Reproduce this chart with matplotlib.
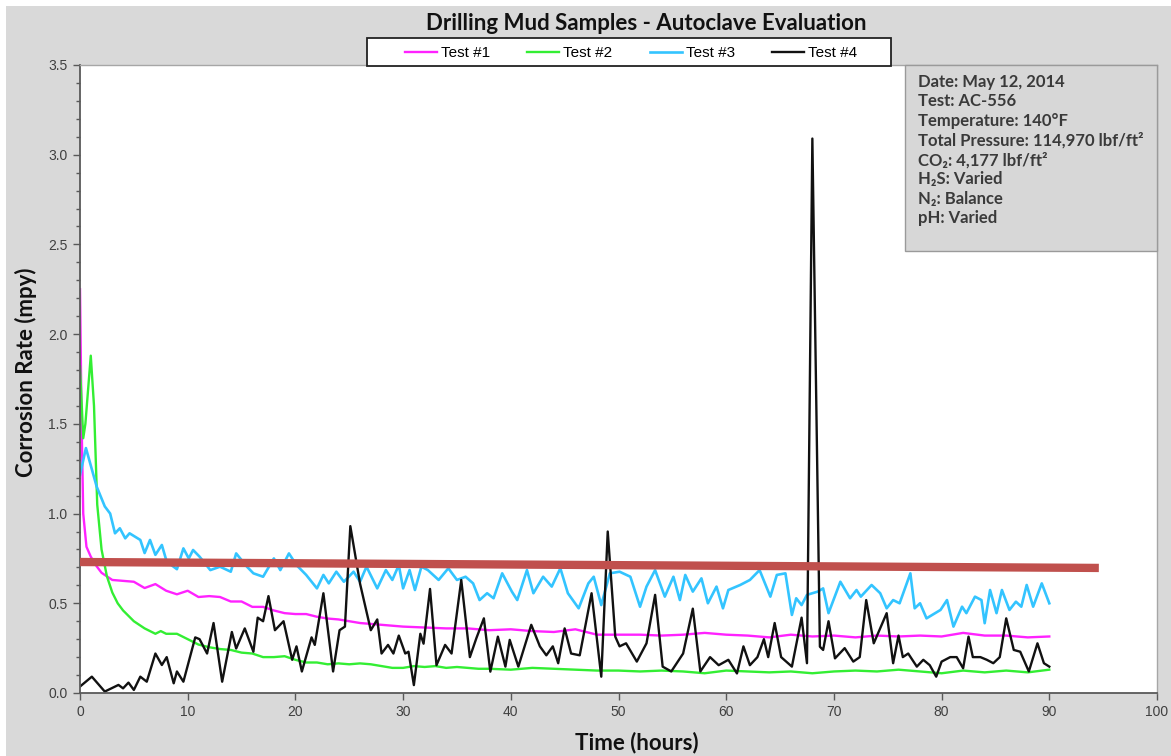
import matplotlib
matplotlib.use('Agg')
import matplotlib.pyplot as plt
from matplotlib.patches import Rectangle
from matplotlib.ticker import MultipleLocator, FormatStrFormatter

###########################################
# Data
###########################################

series_names = ['Test #1', 'Test #2', 'Test #3', 'Test #4']
series_colors = ['#ff22ff', '#33ee33', '#33c4ff', '#111111']

# Test #1
t1 = [0, 0.15, 0.3, 0.6, 1.0, 1.5, 2, 3, 4, 5, 6, 7, 8, 9, 10, 11, 12, 13, 14, 15,
      16, 17, 18, 19, 20, 21, 22, 23, 24, 25, 26, 27, 28, 29, 30, 32, 34, 36, 38, 40,
      42, 44, 46, 48, 50, 52, 54, 56, 58, 60, 62, 64, 66, 68, 70, 72, 74, 76, 78, 80,
      82, 84, 86, 88, 90]
v1 = [2.25, 1.5, 1.0, 0.815, 0.76, 0.71, 0.67, 0.63, 0.625, 0.62, 0.585, 0.607, 0.57, 0.55, 0.57,
      0.535, 0.54, 0.535, 0.51, 0.51, 0.48, 0.48, 0.46, 0.445, 0.44, 0.44, 0.425, 0.415, 0.41, 0.40,
      0.39, 0.385, 0.38, 0.375, 0.37, 0.365, 0.36, 0.36, 0.35, 0.355, 0.345, 0.34, 0.355, 0.325,
      0.325, 0.325, 0.32, 0.325, 0.335, 0.325, 0.32, 0.31, 0.325, 0.315, 0.32, 0.31, 0.32, 0.315,
      0.32, 0.315, 0.335, 0.32, 0.32, 0.31, 0.315]

# Test #2
t2 = [0, 0.3, 0.5, 1.0, 1.3, 1.6, 2.0, 2.5, 3, 3.5, 4, 5, 6, 7, 7.5, 8, 9, 10, 11, 12,
      13, 14, 15, 16, 17, 18, 19, 20, 21, 22, 23, 24, 25, 26, 27, 28, 29, 30, 31, 32,
      33, 34, 35, 36, 37, 38, 40, 42, 44, 46, 48, 50, 52, 54, 56, 58, 60, 62, 64, 66,
      68, 70, 72, 74, 76, 78, 80, 82, 84, 86, 88, 90]
v2 = [1.82, 1.42, 1.5, 1.88, 1.6, 1.05, 0.8, 0.65, 0.56, 0.5, 0.46, 0.4, 0.36, 0.33, 0.345,
      0.33, 0.33, 0.3, 0.27, 0.255, 0.245, 0.24, 0.225, 0.22, 0.2, 0.2, 0.205, 0.185, 0.17,
      0.17, 0.16, 0.165, 0.16, 0.165, 0.16, 0.15, 0.14, 0.14, 0.15, 0.145, 0.15, 0.14, 0.145,
      0.14, 0.135, 0.135, 0.13, 0.14, 0.135, 0.13, 0.125, 0.125, 0.12, 0.125, 0.12, 0.11,
      0.125, 0.12, 0.115, 0.12, 0.11, 0.12, 0.125, 0.12, 0.13, 0.12, 0.11, 0.125, 0.115,
      0.125, 0.115, 0.13]

# Test #3
t3 = [0, 0.55, 1.55, 2.3, 2.8, 3.25, 3.7, 4.2, 4.6, 5.6, 6.0, 6.5, 7.0, 7.6, 8.05, 9.0,
      9.6, 10.1, 10.5, 11.1, 12.1, 13.0, 14.0, 14.5, 15.5, 16.1, 17.0, 18.0, 18.6, 19.4,
      20.1, 21.0, 22.0, 22.6, 23.1, 23.8, 24.5, 25.4, 26.0, 26.6, 27.6, 28.4, 29.0, 29.6,
      30.0, 30.6, 31.1, 31.7, 32.3, 33.3, 34.2, 35.0, 35.8, 36.5, 37.1, 37.8, 38.4, 39.2,
      40.1, 40.6, 41.5, 42.1, 43.0, 43.8, 44.6, 45.3, 46.3, 47.2, 47.7, 48.4, 49.2, 50.1,
      51.1, 52.0, 52.6, 53.4, 54.3, 55.1, 55.7, 56.2, 56.9, 57.7, 58.3, 59.1, 59.7, 60.2,
      61.3, 62.2, 63.1, 64.1, 64.7, 65.5, 66.1, 66.5, 67.0, 67.5, 68.5, 69.0, 69.5, 70.6,
      71.5, 72.1, 72.5, 73.5, 74.3, 74.9, 75.5, 76.1, 77.1, 77.5, 78.0, 78.6, 79.9, 80.5,
      81.1, 81.9, 82.3, 83.1, 83.7, 84.0, 84.5, 85.1, 85.6, 86.3, 86.9, 87.4, 87.9, 88.5,
      89.3, 90.0]
v3 = [1.215, 1.365, 1.15, 1.04, 1.0, 0.89, 0.918, 0.862, 0.89, 0.853, 0.78, 0.853, 0.77,
      0.825, 0.732, 0.69, 0.806, 0.75, 0.797, 0.76, 0.685, 0.704, 0.676, 0.778, 0.704, 0.667,
      0.648, 0.75, 0.685, 0.778, 0.713, 0.658, 0.583, 0.658, 0.611, 0.676, 0.62, 0.676, 0.62,
      0.704, 0.583, 0.685, 0.63, 0.713, 0.583, 0.685, 0.574, 0.704, 0.685, 0.63, 0.695, 0.63,
      0.648, 0.611, 0.518, 0.556, 0.528, 0.667, 0.565, 0.518, 0.685, 0.556, 0.648, 0.593,
      0.695, 0.556, 0.472, 0.611, 0.648, 0.49, 0.667, 0.676, 0.648, 0.481, 0.593, 0.685,
      0.537, 0.648, 0.518, 0.658, 0.565, 0.639, 0.5, 0.593, 0.472, 0.574, 0.602, 0.63, 0.685,
      0.537, 0.658, 0.667, 0.435, 0.528, 0.49, 0.547, 0.565, 0.583, 0.445, 0.62, 0.528, 0.574,
      0.537, 0.602, 0.556, 0.472, 0.518, 0.5, 0.667, 0.472, 0.5, 0.416, 0.463, 0.518, 0.37,
      0.481, 0.445, 0.537, 0.518, 0.389, 0.574, 0.445, 0.574, 0.463, 0.509, 0.481, 0.602,
      0.481, 0.611, 0.5]

# Test #4
t4 = [0, 1.1, 2.3, 3.57, 4.0, 4.5, 5.0, 5.6, 6.2, 7.0, 7.6, 8.05, 8.7, 9.0, 9.6, 10.7,
      11.1, 11.8, 12.4, 13.2, 14.1, 14.5, 15.3, 16.1, 16.5, 17.0, 17.5, 18.1, 18.9, 19.7,
      20.1, 20.6, 21.5, 21.8, 22.6, 23.5, 24.1, 24.6, 25.1, 26.0, 27.0, 27.6, 28.0, 28.6,
      29.1, 29.6, 30.2, 30.5, 31.0, 31.6, 31.9, 32.5, 33.1, 33.9, 34.5, 35.4, 36.2, 36.8,
      37.5, 38.1, 38.8, 39.5, 39.9, 40.7, 41.9, 42.7, 43.3, 43.9, 44.4, 45.0, 45.6, 46.4,
      47.5, 48.4, 49.0, 49.7, 50.1, 50.7, 51.7, 52.6, 53.4, 54.1, 54.9, 56.0, 56.9, 57.6,
      58.5, 59.3, 60.2, 61.0, 61.6, 62.2, 62.9, 63.5, 63.9, 64.5, 65.1, 66.1, 67.0, 67.5,
      68.0, 68.7, 69.0, 69.5, 70.1, 71.0, 71.8, 72.4, 73.0, 73.7, 74.9, 75.5, 76.0, 76.4,
      76.9, 77.7, 78.3, 78.9, 79.5, 80.0, 80.8, 81.4, 82.0, 82.5, 82.9, 83.6, 84.2, 84.8,
      85.4, 86.0, 86.7, 87.3, 88.1, 88.9, 89.5, 90.0]
v4 = [0.036, 0.091, 0.008, 0.045, 0.026, 0.058, 0.017, 0.091, 0.063, 0.22, 0.156, 0.20,
      0.054, 0.12, 0.063, 0.31, 0.30, 0.22, 0.39, 0.063, 0.34, 0.248, 0.36, 0.23, 0.42, 0.40,
      0.54, 0.35, 0.40, 0.185, 0.26, 0.12, 0.31, 0.268, 0.556, 0.12, 0.35, 0.37, 0.93, 0.61,
      0.35, 0.41, 0.22, 0.268, 0.22, 0.32, 0.22, 0.23, 0.044, 0.33, 0.275, 0.58, 0.155, 0.268,
      0.22, 0.63, 0.20, 0.305, 0.416, 0.119, 0.314, 0.147, 0.296, 0.147, 0.38, 0.26, 0.21,
      0.26, 0.166, 0.36, 0.22, 0.21, 0.556, 0.091, 0.90, 0.314, 0.26, 0.277, 0.175, 0.277,
      0.547, 0.147, 0.12, 0.22, 0.47, 0.12, 0.20, 0.155, 0.185, 0.109, 0.26, 0.155, 0.20,
      0.30, 0.20, 0.39, 0.20, 0.147, 0.42, 0.166, 3.09, 0.258, 0.24, 0.40, 0.193, 0.25,
      0.175, 0.20, 0.518, 0.277, 0.445, 0.166, 0.32, 0.20, 0.22, 0.147, 0.185, 0.155, 0.091,
      0.175, 0.20, 0.20, 0.138, 0.314, 0.20, 0.20, 0.185, 0.166, 0.20, 0.416, 0.24, 0.23,
      0.12, 0.277, 0.166, 0.147]

# hand-drawn reference line
ref_t = [0, 94.6]
ref_v = [0.73, 0.697]

info_lines = ['Date: May 12, 2014',
              'Test: AC-556',
              'Temperature: 140°F',
              'Total Pressure: 114,970 lbf/ft²',
              'CO₂: 4,177 lbf/ft²',
              'H₂S: Varied',
              'N₂: Balance',
              'pH: Varied']

###########################################
# Figure
###########################################

W, H = 1171, 756
fig = plt.figure(figsize=(W / 100, H / 100), dpi=100, facecolor='white')
# grey chart area (thin white border top/left like the screenshot)
fig.patches.append(Rectangle((6 / W, 0), 1, 1 - 6 / H, transform=fig.transFigure,
                             facecolor='#d9d9d9', edgecolor='none', zorder=-10))

ax = fig.add_axes([80 / W, 1 - 693 / H, 1077 / W, 628 / H])
ax.set_facecolor('white')

series = [(t1, v1), (t2, v2), (t3, v3), (t4, v4)]
widths = [1.7, 1.7, 1.9, 1.7]
handles = []
for (t, v), name, col, lw in zip(series, series_names, series_colors, widths):
    line, = ax.plot(t, v, color=col, linewidth=lw, label=name, solid_joinstyle='round')
    handles.append(line)

ax.plot(ref_t, ref_v, color='#c0504d', linewidth=6, solid_capstyle='butt', zorder=5)

ax.set_xlim(0, 100)
ax.set_ylim(0, 3.5)
ax.xaxis.set_major_locator(MultipleLocator(10))
ax.yaxis.set_major_locator(MultipleLocator(0.5))
ax.yaxis.set_minor_locator(MultipleLocator(0.1))
ax.yaxis.set_major_formatter(FormatStrFormatter('%.1f'))

for lab in ax.get_xticklabels() + ax.get_yticklabels():
    lab.set_fontfamily('Liberation Sans')
    lab.set_fontsize(10)
    lab.set_color('#404040')
ax.tick_params(which='major', direction='out', length=5, width=1, color='#595959', pad=4)
ax.tick_params(which='minor', direction='out', length=3, width=1, color='#595959')

for side in ['left', 'bottom']:
    ax.spines[side].set_color('#595959')
    ax.spines[side].set_linewidth(1.3)
for side in ['top', 'right']:
    ax.spines[side].set_color('#a6a6a6')
    ax.spines[side].set_linewidth(1.0)

ax.set_xlabel('Time (hours)', fontfamily='Lato', fontweight='bold', fontsize=16,
              color='#111111')
ax.set_ylabel('Corrosion Rate (mpy)', fontfamily='Lato', fontweight='bold', fontsize=16,
              color='#111111')
ax.xaxis.set_label_coords(0.517, -0.062)
ax.yaxis.set_label_coords(-0.040, 0.511)

fig.text(646 / W, 1 - 24 / H, 'Drilling Mud Samples - Autoclave Evaluation',
         ha='center', va='center', fontfamily='Lato', fontweight='bold', fontsize=16,
         color='#111111')

# legend: frame drawn separately so the entries can sit centred in it
fig.patches.append(Rectangle((367 / W, 1 - 66 / H), 524 / W, 28 / H, transform=fig.transFigure,
                             facecolor='white', edgecolor='#222222', linewidth=1.3, zorder=15))
leg = fig.legend(handles, series_names, ncol=4, loc='center',
                 bbox_to_anchor=(631 / W, 1 - 53 / H), bbox_transform=fig.transFigure,
                 frameon=False, handlelength=2.1, handletextpad=0.25, borderpad=0,
                 borderaxespad=0, columnspacing=2.45,
                 prop={'family': ['Liberation Sans Narrow', 'Liberation Sans'], 'size': 11})
leg.set_zorder(20)

# info box in the upper right of the plot area
ax.add_patch(Rectangle((0.766, 0.7038), 0.234, 0.2962, transform=ax.transAxes,
                       facecolor='#d7d7d7', edgecolor='#9a9a9a', linewidth=1,
                       clip_on=False, zorder=10))
for i, line in enumerate(info_lines):
    fig.text(918 / W, 1 - (82 + i * 19.5) / H, line, ha='left', va='center',
             fontfamily=['Lato', 'DejaVu Sans'], fontweight='bold', fontsize=12,
             color='#3a3a3a', zorder=30)

plt.savefig('out.png', dpi=100, facecolor='white')
plt.close()
